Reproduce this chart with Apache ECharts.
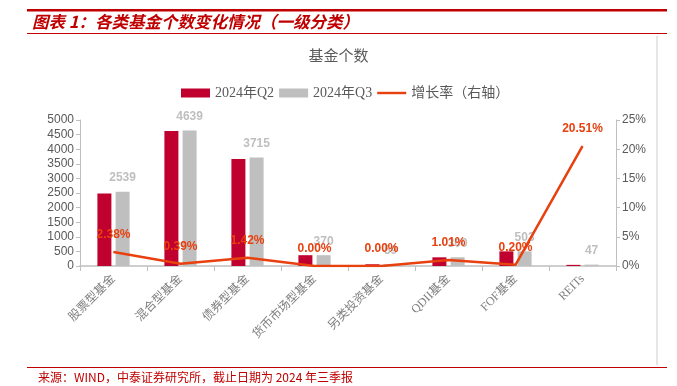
<!DOCTYPE html>
<html>
<head>
<meta charset="utf-8">
<script src="https://cdn.jsdelivr.net/npm/echarts@6/dist/echarts.min.js"></script>
<style>html,body{margin:0;padding:0;background:#fff;}#c{width:677px;height:386px;}</style>
</head>
<body>
<div id="c"></div>
<script>
var categories = ['股票型基金','混合型基金','债券型基金','货币市场型基金','另类投资基金','QDII基金','FOF基金','REITs'];
var q2Values = [2480, 4621, 3663, 370, 59, 297, 502, 39];
var q3Values = [2539, 4639, 3715, 370, 59, 300, 503, 47];
var growthRates = [2.38, 0.39, 1.42, 0.00, 0.00, 1.01, 0.20, 20.51];
var seriesNames = ['2024年Q2', '2024年Q3', '增长率（右轴）'];
var chartTitle = '基金个数';
var headerTitle = '图表 1：各类基金个数变化情况（一级分类）';
var footerText = '来源：WIND，中泰证券研究所，截止日期为 2024 年三季报';

var RED = '#C0002F', GRAY = '#BFBFBF', ORANGE = '#E8400F', HDR = '#C00000';
var serif = '"Liberation Serif","Noto Sans CJK SC",serif';
var sans = '"Liberation Sans",Arial,sans-serif';

var chart = echarts.init(document.getElementById('c'), null, {renderer: 'canvas'});
chart.setOption({
  animation: false,
  backgroundColor: '#fff',
  title: {
    text: chartTitle, left: 'center', top: 45,
    textStyle: {fontFamily: serif, fontSize: 15, fontWeight: 'normal', color: '#595959'}
  },
  legend: {
    top: 81, left: 176,
    itemWidth: 29, itemHeight: 9, itemGap: 5,
    symbolKeepAspect: true,
    textStyle: {fontFamily: serif, fontSize: 14, color: '#595959'},
    data: [
      {name: seriesNames[0], icon: 'rect'},
      {name: seriesNames[1], icon: 'rect'},
      {name: seriesNames[2], icon: 'path://M0,0L31,0L31,2.6L0,2.6Z', itemStyle: {color: ORANGE}}
    ]
  },
  grid: {left: 80, right: 61, top: 120, bottom: 120, containLabel: false},
  xAxis: {
    type: 'category', data: categories,
    axisLine: {lineStyle: {color: '#BFBFBF', width: 1.5}},
    axisTick: {show: true, length: 5, lineStyle: {color: '#BFBFBF'}},
    axisLabel: {rotate: 45, fontFamily: serif, fontSize: 12, color: '#7F7F7F', margin: 11, interval: 0}
  },
  yAxis: [
    {
      type: 'value', min: 0, max: 5000, interval: 500,
      axisLine: {show: true, lineStyle: {color: '#BFBFBF'}},
      axisTick: {show: true, length: 4, lineStyle: {color: '#BFBFBF'}},
      splitLine: {show: false},
      axisLabel: {formatter: function(v){return String(v);}, fontFamily: sans, fontSize: 12, color: '#595959', margin: 6}
    },
    {
      type: 'value', min: 0, max: 25, interval: 5, position: 'right',
      axisLine: {show: true, lineStyle: {color: '#BFBFBF'}},
      axisTick: {show: true, length: 4, lineStyle: {color: '#BFBFBF'}},
      splitLine: {show: false},
      axisLabel: {formatter: '{value}%', fontFamily: sans, fontSize: 12, color: '#595959', margin: 6}
    }
  ],
  series: [
    {
      name: seriesNames[0], type: 'bar', data: q2Values,
      barWidth: 14, barGap: '30%',
      itemStyle: {color: RED}
    },
    {
      name: seriesNames[1], type: 'bar', data: q3Values,
      barWidth: 14, barGap: '30%',
      itemStyle: {color: GRAY},
      label: {show: true, position: 'top', distance: 8, fontFamily: sans, fontSize: 12, fontWeight: 'bold', color: GRAY}
    },
    {
      name: seriesNames[2], type: 'line', yAxisIndex: 1, data: growthRates,
      symbol: 'circle', symbolSize: 1, showSymbol: true, z: 5,
      lineStyle: {color: ORANGE, width: 2.5},
      itemStyle: {color: ORANGE},
      label: {show: true, position: 'top', distance: 11, formatter: function(p){return p.value.toFixed(2) + '%';},
        fontFamily: sans, fontSize: 12, fontWeight: 'bold', color: ORANGE}
    }
  ],
  graphic: [
    {type: 'rect', shape: {x: 27, y: 9, width: 640, height: 2.5}, style: {fill: HDR}, silent: true},
    {type: 'text', x: 32, y: 22, style: {text: headerTitle, fill: HDR, font: 'italic bold 16.5px "Noto Sans CJK SC", sans-serif', textVerticalAlign: 'middle'}, silent: true},
    {type: 'rect', shape: {x: 27, y: 33, width: 640, height: 1}, style: {fill: HDR}, silent: true},
    {type: 'rect', shape: {x: 656, y: 36, width: 2, height: 329}, style: {fill: '#E6E6E6'}, silent: true},
    {type: 'rect', shape: {x: 27, y: 367, width: 640, height: 1}, style: {fill: HDR}, silent: true},
    {type: 'text', x: 38, y: 377, style: {text: footerText, fill: HDR, font: '12px "Noto Sans CJK SC", sans-serif', textVerticalAlign: 'middle'}, silent: true}
  ]
});
</script>
</body>
</html>
